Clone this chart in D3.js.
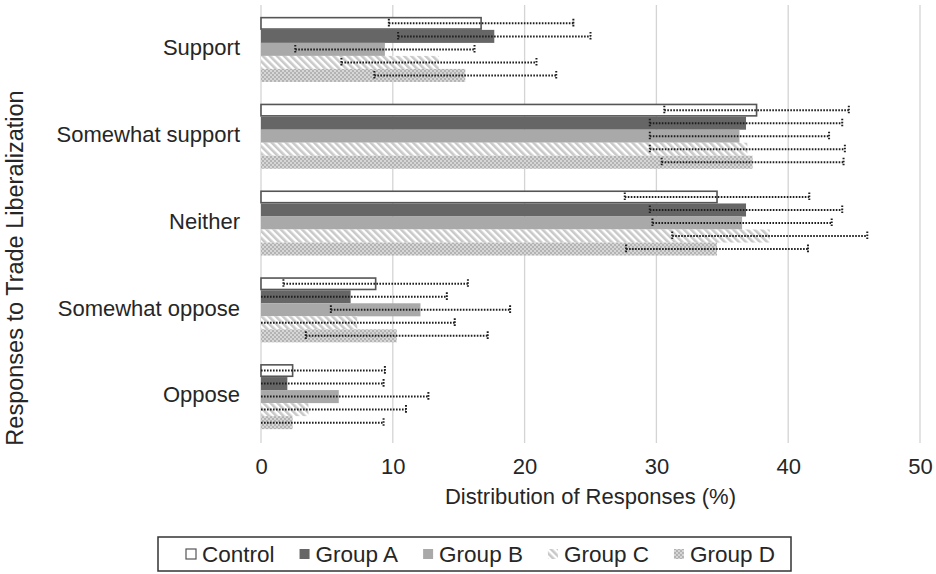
<!DOCTYPE html>
<html>
<head>
<meta charset="utf-8">
<script src="https://cdn.jsdelivr.net/npm/d3@7/dist/d3.min.js"></script>
<style>
  html, body { margin: 0; padding: 0; background: #fff; }
  svg { display: block; font-family: "Liberation Sans", Arial, sans-serif; }
</style>
</head>
<body>
<svg id="chart" width="936" height="574"></svg>
<script>
// ---- data ----
const categories = ["Support", "Somewhat support", "Neither", "Somewhat oppose", "Oppose"];
const seriesNames = ["Control", "Group A", "Group B", "Group C", "Group D"];
const control = [16.7, 37.6, 34.6, 8.7, 2.4];
const groupA  = [17.7, 36.8, 36.8, 6.8, 2.0];
const groupB  = [9.4, 36.3, 36.5, 12.1, 5.9];
const groupC  = [13.5, 36.9, 38.6, 7.3, 3.6];
const groupD  = [15.5, 37.3, 34.6, 10.3, 2.4];
const errControl = [7.0, 7.0, 7.0, 7.0, 7.0];
const errA = [7.3, 7.3, 7.3, 7.3, 7.3];
const errB = [6.8, 6.8, 6.8, 6.8, 6.8];
const errC = [7.4, 7.4, 7.4, 7.4, 7.4];
const errD = [6.9, 6.9, 6.9, 6.9, 6.9];
const xTicks = [0, 10, 20, 30, 40, 50];
const xTitle = "Distribution of Responses (%)";
const yTitle = "Responses to Trade Liberalization";

const seriesValues = [control, groupA, groupB, groupC, groupD];
const seriesErrors = [errControl, errA, errB, errC, errD];

// ---- layout ----
const svg = d3.select("#chart");
const plot = { left: 261, right: 920, top: 6, bottom: 440 };
const textColor = "#262626";

const x = d3.scaleLinear().domain([0, 50]).range([plot.left, plot.right]);
const y = d3.scaleBand().domain(categories).range([plot.top, plot.bottom])
  .paddingInner(0.25).paddingOuter(0.125);
const ySub = d3.scaleBand().domain(seriesNames).range([0, y.bandwidth()]);

// patterns
const defs = svg.append("defs");
const hatch = defs.append("pattern").attr("id", "hatchC")
  .attr("patternUnits", "userSpaceOnUse").attr("width", 5).attr("height", 5)
  .attr("patternTransform", "rotate(-45)");
hatch.append("rect").attr("width", 5).attr("height", 5).attr("fill", "#ffffff");
hatch.append("rect").attr("x", 0).attr("y", 0).attr("width", 2.6).attr("height", 5).attr("fill", "#c9c9c9");

const dots = defs.append("pattern").attr("id", "dotsD")
  .attr("patternUnits", "userSpaceOnUse").attr("width", 4).attr("height", 4);
dots.append("rect").attr("width", 4).attr("height", 4).attr("fill", "#b3b3b3");
dots.append("rect").attr("x", 0).attr("y", 0).attr("width", 2).attr("height", 2).attr("fill", "#d6d6d6");
dots.append("rect").attr("x", 2).attr("y", 2).attr("width", 2).attr("height", 2).attr("fill", "#d6d6d6");

const styles = {
  "Control": { fill: "#ffffff", stroke: "#555555", sw: 1.6 },
  "Group A": { fill: "#666666", stroke: "none", sw: 0 },
  "Group B": { fill: "#a9a9a9", stroke: "none", sw: 0 },
  "Group C": { fill: "url(#hatchC)", stroke: "none", sw: 0 },
  "Group D": { fill: "url(#dotsD)", stroke: "none", sw: 0 }
};

// gridlines
const xAxis = d3.axisBottom(x).tickValues(xTicks).tickSize(0).tickPadding(0).tickFormat(d3.format("d"));
svg.append("g").attr("class", "grid")
  .selectAll("line").data(xTicks).join("line")
  .attr("x1", d => x(d)).attr("x2", d => x(d))
  .attr("y1", plot.top - 1).attr("y2", plot.bottom + 3)
  .attr("stroke", "#d4d4d4").attr("stroke-width", 1.3);

// axis tick labels
const gx = svg.append("g").attr("transform", `translate(0,${plot.bottom + 34})`).call(xAxis);
gx.select(".domain").remove();
gx.selectAll("text").attr("font-size", 22).attr("fill", textColor)
  .attr("font-family", "Liberation Sans, Arial, sans-serif").attr("dy", "0");

// bars
const rows = [];
seriesNames.forEach((s, si) => {
  categories.forEach((c, ci) => {
    rows.push({ series: s, cat: c, v: seriesValues[si][ci], e: seriesErrors[si][ci] });
  });
});

svg.append("g").selectAll("rect").data(rows).join("rect")
  .attr("x", x(0))
  .attr("y", d => y(d.cat) + ySub(d.series) + (d.series === "Control" ? 0.8 : 0))
  .attr("width", d => x(d.v) - x(0))
  .attr("height", d => ySub.bandwidth() - (d.series === "Control" ? 1.6 : 0))
  .attr("fill", d => styles[d.series].fill)
  .attr("stroke", d => styles[d.series].stroke)
  .attr("stroke-width", d => styles[d.series].sw);

// error bars
const eg = svg.append("g").attr("stroke", "#1e1e1e").attr("stroke-width", 2)
  .attr("stroke-dasharray", "1.6,1.4").attr("fill", "none");
rows.forEach(d => {
  const cy = y(d.cat) + ySub(d.series) + ySub.bandwidth() / 2;
  const lo = d.v - d.e, hi = d.v + d.e;
  const x1 = x(Math.max(0, lo)), x2 = x(Math.min(50, hi));
  eg.append("line").attr("x1", x1).attr("x2", x2).attr("y1", cy).attr("y2", cy);
  const capH = 4.5;
  if (lo >= 0) eg.append("line").attr("x1", x(lo)).attr("x2", x(lo)).attr("y1", cy - capH).attr("y2", cy + capH);
  if (hi <= 50) eg.append("line").attr("x1", x(hi)).attr("x2", x(hi)).attr("y1", cy - capH).attr("y2", cy + capH);
});

// category labels
svg.append("g").selectAll("text").data(categories).join("text")
  .attr("x", 240).attr("y", d => y(d) + y.bandwidth() / 2 - 2)
  .attr("dy", "0.35em").attr("text-anchor", "end")
  .attr("font-size", 22).attr("fill", textColor).text(d => d);

// axis titles
svg.append("text").attr("x", (plot.left + plot.right) / 2 + 0).attr("y", 504)
  .attr("text-anchor", "middle").attr("font-size", 22).attr("fill", textColor).text(xTitle);
svg.append("text").attr("transform", "translate(23,268) rotate(-90)")
  .attr("text-anchor", "middle").attr("font-size", 23.5).attr("fill", textColor).text(yTitle);

// legend
const lg = svg.append("g");
const box = { x: 158, y: 537, w: 633, h: 34 };
lg.append("rect").attr("x", box.x).attr("y", box.y).attr("width", box.w).attr("height", box.h)
  .attr("fill", "#fff").attr("stroke", "#333").attr("stroke-width", 1.5);
let cx = box.x + 28;
const ly = box.y + box.h / 2;
seriesNames.forEach((s, i) => {
  const st = styles[s];
  lg.append("rect").attr("x", cx).attr("y", ly - 5).attr("width", 10).attr("height", 10)
    .attr("fill", st.fill).attr("stroke", s === "Control" ? "#555" : "none").attr("stroke-width", 1.2);
  const t = lg.append("text").attr("x", cx + 16).attr("y", ly).attr("dy", "0.36em")
    .attr("font-size", 22.5).attr("fill", textColor).text(s);
  const w = t.node().getComputedTextLength();
  cx = cx + 16 + w + 25;
});
</script>
</body>
</html>
